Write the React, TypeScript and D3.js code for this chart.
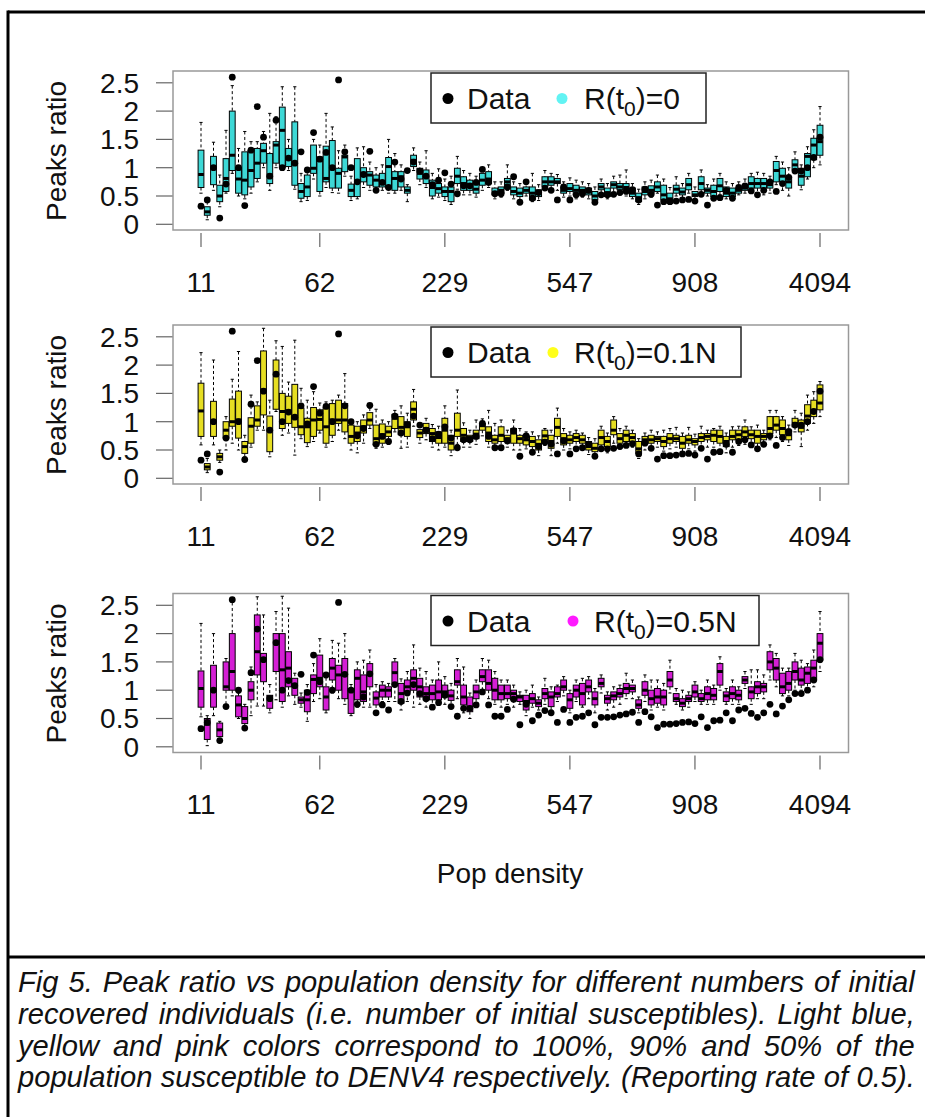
import React, { useEffect, useRef } from 'react';
import * as d3 from 'd3';

const tickIndex = [0, 19, 39, 59, 79, 99];
const tickLabels = ['11', '62', '229', '547', '908', '4094'];
const yTicks = [0, 0.5, 1, 1.5, 2, 2.5];
const yTickLabels = ['0', '0.5', '1', '1.5', '2', '2.5'];

// observed peak ratio (black dots), one per population density category
const dataPeak = [
  0.32, 0.43, 1.0, 0.11, 0.71, 2.6, 1.0, 0.33, 1.31, 2.08,
  1.54, 0.85, 1.84, 1.0, 1.17, 1.08, 1.28, 0.96, 1.62, 1.15,
  1.27, 1.0, 2.55, 1.28, 1.0, 0.75, 0.88, 1.29, 0.6, 0.74,
  0.65, 1.1, 0.8, 0.95, 1.1, 0.94, 0.85, 0.7, 0.78, 0.91,
  0.71, 0.54, 0.68, 0.68, 0.74, 0.97, 0.74, 0.54, 0.54, 0.66,
  0.84, 0.39, 0.75, 0.46, 0.56, 0.64, 0.6, 0.43, 0.66, 0.43,
  0.52, 0.54, 0.6, 0.39, 0.52, 0.52, 0.53, 0.56, 0.58, 0.61,
  0.43, 0.62, 0.53, 0.34, 0.4, 0.4, 0.41, 0.43, 0.44, 0.41,
  0.53, 0.34, 0.46, 0.47, 0.6, 0.46, 0.65, 0.68, 0.59, 0.52,
  0.6, 0.75, 0.58, 0.72, 0.83, 0.94, 0.94, 1.0, 1.18, 1.54,
];

// [lower whisker, Q1, median, Q3, upper whisker]
const boxesR0 = [
  [0.55, 0.65, 0.88, 1.31, 1.8], [0.08, 0.16, 0.22, 0.31, 0.4], [0.6, 0.7, 1.0, 1.2, 1.45], [0.31, 0.4, 0.5, 0.69, 0.87], [0.55, 0.58, 0.81, 1.16, 1.66],
  [0.9, 0.95, 1.22, 2.0, 2.45], [0.5, 0.55, 0.8, 1.0, 1.34], [0.45, 0.52, 0.78, 1.28, 1.64], [0.55, 0.66, 0.95, 1.31, 1.46], [0.75, 0.81, 1.08, 1.34, 1.46],
  [1.0, 1.08, 1.3, 1.43, 1.64], [0.6, 0.72, 0.87, 1.25, 1.96], [1.0, 1.08, 1.4, 1.46, 1.9], [0.95, 1.0, 1.66, 2.07, 2.43], [0.95, 1.02, 1.16, 1.34, 1.5],
  [0.62, 0.69, 1.08, 1.81, 2.43], [0.4, 0.46, 0.58, 0.72, 0.9], [0.42, 0.49, 0.66, 0.87, 1.0], [0.8, 0.9, 0.99, 1.4, 1.5], [0.5, 0.58, 1.13, 1.19, 1.4],
  [0.65, 0.75, 0.81, 1.38, 1.96], [0.56, 0.64, 1.02, 1.48, 1.72], [0.55, 0.64, 0.9, 0.99, 1.3], [0.85, 0.93, 1.19, 1.22, 1.4], [0.42, 0.49, 0.6, 0.71, 0.85],
  [0.45, 0.49, 0.75, 1.16, 1.35], [0.65, 0.75, 0.9, 1.0, 1.37], [0.6, 0.69, 0.87, 0.93, 1.1], [0.6, 0.66, 0.78, 0.87, 1.0], [0.6, 0.66, 0.75, 0.9, 1.05],
  [0.55, 0.64, 1.02, 1.18, 1.5], [0.55, 0.6, 0.81, 0.93, 1.25], [0.6, 0.66, 0.84, 0.93, 1.05], [0.4, 0.55, 0.6, 0.66, 0.7], [0.95, 1.02, 1.13, 1.22, 1.35],
  [0.7, 0.8, 0.9, 0.99, 1.1], [0.65, 0.72, 0.85, 0.96, 1.3], [0.45, 0.5, 0.65, 0.78, 0.9], [0.48, 0.55, 0.63, 0.72, 0.98], [0.42, 0.49, 0.58, 0.66, 0.8],
  [0.35, 0.4, 0.58, 0.66, 0.85], [0.62, 0.72, 0.85, 0.99, 1.2], [0.52, 0.6, 0.72, 0.84, 0.95], [0.52, 0.6, 0.7, 0.78, 0.9], [0.48, 0.55, 0.62, 0.72, 0.85],
  [0.6, 0.69, 0.78, 0.9, 1.0], [0.65, 0.72, 0.8, 0.93, 1.05], [0.45, 0.52, 0.56, 0.64, 0.75], [0.48, 0.55, 0.6, 0.66, 0.75], [0.6, 0.64, 0.75, 0.81, 1.05],
  [0.45, 0.52, 0.58, 0.66, 0.75], [0.42, 0.49, 0.55, 0.64, 0.72], [0.5, 0.55, 0.6, 0.66, 0.78], [0.4, 0.43, 0.55, 0.66, 0.9], [0.42, 0.49, 0.55, 0.61, 0.7],
  [0.6, 0.67, 0.75, 0.84, 0.95], [0.6, 0.69, 0.75, 0.84, 0.9], [0.6, 0.72, 0.75, 0.81, 0.88], [0.48, 0.55, 0.6, 0.66, 0.75], [0.5, 0.58, 0.63, 0.72, 0.82],
  [0.45, 0.52, 0.6, 0.69, 0.78], [0.48, 0.55, 0.6, 0.66, 0.75], [0.45, 0.52, 0.57, 0.64, 0.72], [0.38, 0.43, 0.5, 0.58, 0.66], [0.5, 0.61, 0.66, 0.72, 0.8],
  [0.45, 0.49, 0.56, 0.64, 0.72], [0.55, 0.64, 0.7, 0.75, 0.85], [0.52, 0.61, 0.66, 0.72, 0.87], [0.5, 0.58, 0.65, 0.72, 0.96], [0.45, 0.49, 0.55, 0.64, 0.72],
  [0.35, 0.4, 0.47, 0.55, 0.62], [0.45, 0.52, 0.58, 0.66, 0.75], [0.48, 0.55, 0.6, 0.68, 0.78], [0.55, 0.58, 0.66, 0.75, 0.87], [0.38, 0.43, 0.52, 0.69, 0.8],
  [0.35, 0.37, 0.45, 0.55, 0.65], [0.5, 0.55, 0.62, 0.69, 0.84], [0.45, 0.52, 0.57, 0.64, 0.72], [0.55, 0.61, 0.7, 0.81, 0.9], [0.45, 0.49, 0.52, 0.58, 0.66],
  [0.55, 0.61, 0.72, 0.84, 0.96], [0.5, 0.55, 0.6, 0.64, 0.7], [0.42, 0.49, 0.58, 0.69, 0.8], [0.52, 0.58, 0.68, 0.81, 0.9], [0.45, 0.49, 0.55, 0.66, 0.75],
  [0.42, 0.49, 0.55, 0.64, 0.72], [0.52, 0.55, 0.6, 0.64, 0.75], [0.55, 0.6, 0.64, 0.69, 0.8], [0.55, 0.64, 0.72, 0.84, 0.9], [0.55, 0.64, 0.72, 0.81, 0.92],
  [0.52, 0.64, 0.72, 0.81, 0.9], [0.55, 0.64, 0.7, 0.75, 0.85], [0.7, 0.75, 0.95, 1.11, 1.2], [0.6, 0.75, 0.85, 0.99, 1.1], [0.5, 0.64, 0.75, 0.84, 1.0],
  [0.9, 0.96, 1.05, 1.14, 1.28], [0.61, 0.69, 0.85, 0.99, 1.05], [0.8, 0.84, 1.2, 1.25, 1.37], [1.0, 1.14, 1.4, 1.52, 1.67], [1.05, 1.22, 1.46, 1.75, 2.08],
];

const boxesR01N = [
  [0.59, 0.74, 1.19, 1.68, 2.22], [0.1, 0.15, 0.2, 0.26, 0.35], [0.59, 0.74, 1.0, 1.36, 2.09], [0.28, 0.32, 0.38, 0.44, 0.5], [0.5, 0.71, 0.85, 1.0, 1.09],
  [0.62, 0.92, 1.0, 1.4, 1.75], [0.5, 0.71, 1.03, 1.54, 2.24], [0.38, 0.44, 0.56, 0.65, 0.76], [0.55, 0.62, 0.92, 1.07, 1.47], [0.85, 0.92, 1.03, 1.28, 1.35],
  [0.85, 1.12, 1.56, 2.25, 2.65], [0.38, 0.47, 0.85, 1.1, 1.38], [1.18, 1.22, 1.82, 2.09, 2.43], [0.76, 0.88, 1.18, 1.5, 2.33], [0.8, 0.97, 1.19, 1.45, 1.7],
  [0.41, 0.9, 1.09, 1.66, 2.44], [0.7, 0.77, 0.91, 1.24, 1.59], [0.56, 0.63, 0.91, 1.06, 1.38], [0.65, 0.74, 1.03, 1.25, 1.53], [0.8, 0.85, 1.04, 1.21, 1.33],
  [0.55, 0.62, 0.91, 1.25, 1.35], [0.65, 0.76, 1.03, 1.32, 1.38], [0.85, 0.97, 1.03, 1.38, 1.47], [0.7, 0.82, 1.03, 1.32, 1.85], [0.5, 0.62, 0.74, 0.94, 1.0],
  [0.45, 0.65, 0.8, 0.92, 1.0], [0.62, 0.8, 0.91, 1.03, 1.12], [0.88, 0.94, 1.03, 1.16, 1.24], [0.53, 0.59, 0.7, 0.94, 1.22], [0.55, 0.62, 0.77, 0.96, 1.03],
  [0.6, 0.74, 0.82, 0.92, 1.0], [0.82, 0.88, 1.06, 1.13, 1.2], [0.53, 0.77, 0.9, 1.09, 1.28], [0.55, 0.74, 0.91, 1.0, 1.15], [0.92, 1.03, 1.22, 1.35, 1.57],
  [0.62, 0.72, 0.8, 0.86, 0.95], [0.68, 0.79, 0.88, 0.97, 1.06], [0.55, 0.65, 0.79, 0.88, 0.95], [0.5, 0.62, 0.72, 0.82, 0.92], [0.55, 0.62, 0.85, 1.06, 1.28],
  [0.4, 0.5, 0.62, 0.76, 0.85], [0.6, 0.74, 0.85, 1.15, 1.56], [0.55, 0.65, 0.76, 0.88, 0.98], [0.55, 0.65, 0.72, 0.76, 0.85], [0.6, 0.7, 0.78, 0.85, 1.03],
  [0.75, 0.85, 0.93, 0.97, 1.05], [0.55, 0.65, 0.8, 0.91, 1.2], [0.5, 0.62, 0.68, 0.76, 0.97], [0.5, 0.65, 0.76, 0.91, 1.03], [0.55, 0.65, 0.7, 0.76, 0.85],
  [0.5, 0.62, 0.8, 0.88, 1.03], [0.5, 0.62, 0.7, 0.76, 0.88], [0.52, 0.59, 0.68, 0.76, 0.82], [0.45, 0.56, 0.65, 0.74, 0.82], [0.4, 0.5, 0.6, 0.68, 0.75],
  [0.58, 0.68, 0.75, 0.85, 0.88], [0.4, 0.53, 0.65, 0.76, 0.85], [0.62, 0.74, 0.9, 1.06, 1.24], [0.5, 0.59, 0.7, 0.79, 0.88], [0.52, 0.62, 0.68, 0.76, 0.82],
  [0.55, 0.65, 0.72, 0.79, 0.85], [0.52, 0.62, 0.68, 0.76, 0.8], [0.42, 0.5, 0.56, 0.65, 0.72], [0.38, 0.47, 0.53, 0.62, 0.7], [0.5, 0.59, 0.72, 0.85, 0.92],
  [0.45, 0.56, 0.65, 0.74, 0.8], [0.62, 0.77, 0.85, 1.03, 1.09], [0.52, 0.62, 0.7, 0.79, 0.88], [0.55, 0.65, 0.76, 0.85, 0.92], [0.55, 0.65, 0.72, 0.79, 0.85],
  [0.35, 0.44, 0.52, 0.65, 0.7], [0.5, 0.62, 0.68, 0.74, 0.8], [0.5, 0.62, 0.68, 0.76, 0.85], [0.55, 0.65, 0.7, 0.74, 0.82], [0.48, 0.56, 0.65, 0.74, 0.85],
  [0.52, 0.62, 0.7, 0.79, 0.88], [0.55, 0.65, 0.7, 0.76, 0.9], [0.45, 0.53, 0.62, 0.74, 0.8], [0.52, 0.62, 0.68, 0.76, 0.9], [0.48, 0.59, 0.65, 0.7, 0.78],
  [0.55, 0.65, 0.72, 0.79, 0.92], [0.55, 0.68, 0.74, 0.79, 0.85], [0.55, 0.65, 0.76, 0.85, 0.88], [0.5, 0.62, 0.74, 0.85, 0.92], [0.45, 0.56, 0.65, 0.74, 0.8],
  [0.55, 0.68, 0.74, 0.85, 0.91], [0.58, 0.68, 0.77, 0.85, 0.92], [0.6, 0.74, 0.82, 0.91, 1.03], [0.6, 0.7, 0.77, 0.85, 0.91], [0.5, 0.62, 0.74, 0.85, 0.94],
  [0.58, 0.68, 0.74, 0.79, 0.85], [0.68, 0.79, 0.88, 1.09, 1.2], [0.72, 0.85, 0.94, 1.09, 1.2], [0.65, 0.77, 0.88, 1.03, 1.09], [0.58, 0.68, 0.77, 0.85, 0.94],
  [0.82, 0.91, 0.97, 1.06, 1.2], [0.56, 0.82, 0.9, 1.03, 1.15], [0.85, 0.97, 1.1, 1.3, 1.47], [0.97, 1.09, 1.2, 1.38, 1.53], [1.09, 1.21, 1.33, 1.65, 1.71],
];

const boxesR05N = [
  [0.53, 0.7, 1.03, 1.34, 2.18], [0.02, 0.13, 0.4, 0.5, 0.55], [0.55, 0.7, 1.0, 1.44, 2.0], [0.18, 0.18, 0.3, 0.42, 0.45], [0.75, 1.0, 1.06, 1.5, 1.56],
  [0.9, 1.0, 1.33, 2.0, 2.55], [0.5, 0.53, 0.74, 0.9, 0.95], [0.35, 0.41, 0.5, 0.71, 0.75], [0.55, 0.83, 1.0, 1.15, 1.41], [0.72, 1.27, 1.68, 2.33, 2.65],
  [0.72, 1.15, 1.56, 1.65, 2.33], [0.6, 0.68, 0.88, 0.91, 1.1], [0.83, 1.33, 1.83, 2.0, 2.39], [0.7, 0.8, 1.36, 2.0, 2.66], [0.9, 1.06, 1.39, 1.68, 2.45],
  [0.75, 0.91, 1.09, 1.21, 1.3], [0.7, 0.77, 0.83, 0.88, 0.95], [0.45, 0.62, 0.83, 1.0, 1.1], [0.8, 0.94, 1.19, 1.27, 1.47], [0.85, 1.06, 1.21, 1.62, 1.91],
  [0.6, 0.65, 0.88, 1.06, 1.22], [0.95, 1.18, 1.39, 1.56, 1.88], [0.85, 1.0, 1.27, 1.44, 1.83], [0.75, 0.85, 1.27, 1.56, 2.0], [0.55, 0.59, 1.0, 1.03, 1.1],
  [0.7, 0.83, 1.21, 1.36, 1.5], [0.7, 0.8, 0.97, 1.27, 1.53], [0.7, 1.06, 1.3, 1.47, 1.71], [0.6, 0.74, 0.86, 0.97, 1.1], [0.8, 0.88, 1.0, 1.09, 1.15],
  [0.8, 0.88, 1.0, 1.06, 1.12], [0.8, 1.09, 1.31, 1.5, 1.56], [0.65, 0.77, 0.94, 1.12, 1.2], [0.8, 0.97, 1.06, 1.18, 1.33], [0.7, 1.0, 1.21, 1.36, 1.8],
  [0.75, 0.88, 1.06, 1.21, 1.39], [0.7, 0.83, 0.94, 1.06, 1.33], [0.7, 0.83, 0.94, 1.09, 1.18], [0.75, 0.83, 0.97, 1.18, 1.5], [0.75, 0.88, 0.97, 1.09, 1.24],
  [0.7, 0.82, 0.9, 1.0, 1.12], [0.85, 1.09, 1.15, 1.36, 1.56], [0.6, 0.74, 0.88, 1.09, 1.41], [0.5, 0.62, 0.7, 0.88, 0.95], [0.75, 0.85, 0.97, 1.09, 1.18],
  [0.95, 1.15, 1.24, 1.36, 1.56], [0.85, 1.0, 1.12, 1.36, 1.53], [0.75, 0.83, 1.0, 1.21, 1.33], [0.7, 0.83, 0.94, 1.09, 1.18], [0.75, 0.85, 0.94, 1.09, 1.18],
  [0.7, 0.83, 0.94, 1.0, 1.09], [0.75, 0.8, 0.88, 0.91, 0.97], [0.55, 0.65, 0.8, 0.91, 1.0], [0.7, 0.77, 0.85, 0.94, 1.09], [0.65, 0.71, 0.77, 0.83, 0.88],
  [0.75, 0.85, 0.94, 1.03, 1.21], [0.65, 0.71, 0.88, 0.97, 1.06], [0.8, 0.88, 0.94, 1.06, 1.09], [0.9, 1.0, 1.06, 1.18, 1.24], [0.6, 0.68, 0.83, 0.94, 1.0],
  [0.8, 0.88, 1.0, 1.09, 1.18], [0.7, 0.74, 0.94, 1.12, 1.21], [0.85, 0.97, 1.06, 1.18, 1.24], [0.6, 0.74, 0.85, 0.97, 1.03], [0.95, 1.06, 1.12, 1.21, 1.27],
  [0.65, 0.77, 0.85, 0.91, 0.97], [0.7, 0.83, 0.9, 0.97, 1.06], [0.75, 0.88, 0.94, 1.03, 1.09], [0.85, 0.94, 1.03, 1.12, 1.3], [0.85, 0.97, 1.03, 1.09, 1.18],
  [0.6, 0.68, 0.74, 0.83, 0.88], [0.8, 0.91, 1.0, 1.15, 1.27], [0.65, 0.74, 0.85, 1.0, 1.18], [0.7, 0.77, 0.88, 1.03, 1.18], [0.65, 0.74, 0.88, 1.0, 1.12],
  [0.95, 1.06, 1.18, 1.33, 1.53], [0.75, 0.8, 0.85, 0.94, 1.03], [0.65, 0.71, 0.77, 0.85, 1.0], [0.7, 0.8, 0.85, 0.91, 0.97], [0.8, 0.88, 0.97, 1.09, 1.15],
  [0.75, 0.8, 0.85, 0.94, 1.0], [0.75, 0.83, 0.94, 1.06, 1.18], [0.75, 0.83, 0.91, 1.03, 1.09], [1.0, 1.09, 1.33, 1.47, 1.59], [0.75, 0.8, 0.9, 0.97, 1.03],
  [0.75, 0.85, 0.94, 1.06, 1.18], [0.75, 0.83, 0.91, 1.0, 1.06], [1.03, 1.12, 1.18, 1.24, 1.33], [0.75, 0.85, 0.97, 1.06, 1.36], [0.85, 0.94, 1.06, 1.15, 1.36],
  [0.85, 0.97, 1.06, 1.12, 1.27], [1.18, 1.36, 1.5, 1.68, 1.8], [1.06, 1.18, 1.39, 1.56, 1.65], [0.9, 0.94, 1.06, 1.3, 1.39], [0.9, 1.0, 1.12, 1.33, 1.39],
  [1.0, 1.18, 1.33, 1.5, 1.65], [1.0, 1.09, 1.18, 1.39, 1.53], [1.0, 1.12, 1.3, 1.41, 1.47], [1.06, 1.18, 1.39, 1.53, 1.71], [1.33, 1.53, 1.83, 2.0, 2.39],
];

const captionLines = [
  'Fig 5. Peak ratio vs population density for different numbers of initial',
  'recovered individuals (i.e. number of initial susceptibles). Light blue,',
  'yellow and pink colors correspond to 100%, 90% and 50% of the',
  'population susceptible to DENV4 respectively. (Reporting rate of 0.5).',
];

const FONT = '"Liberation Sans", Arial, Helvetica, sans-serif';
const CAP_FONT = '"Liberation Sans", Arial, sans-serif';

const panels = [
  { boxes: boxesR0, fill: '#3DD8D6', dot: '#62F3F3', suffix: '=0', top: 71, legRight: 706, dot2: 562, text2: 584 },
  { boxes: boxesR01N, fill: '#E6DE22', dot: '#FFFF1A', suffix: '=0.1N', top: 325, legRight: 741, dot2: 553, text2: 574 },
  { boxes: boxesR05N, fill: '#D41FD4', dot: '#FF1AFF', suffix: '=0.5N', top: 593.5, legRight: 759, dot2: 573, text2: 594 },
];

const PLOT_L = 173;
const PLOT_R = 848.5;
const PLOT_H = 159;
const ZERO_OFF = 153.3;
const UNIT = 56.6;
const CAP_X = 18;
const CAP_W = 897;
const CAP_FS = 30;

const x = d3.scaleLinear().domain([0, 99]).range([201, 820]);

function Panel({ p }: { p: any }) {
  const zero = p.top + ZERO_OFF;
  const y = d3.scaleLinear().domain([0, 2.5]).range([zero, zero - UNIT * 2.5]);
  const bw = 2.9;
  const legTop = p.top + 2;
  const legMid = p.top + 27.5;
  return (
    <g>
      {yTicks.map((t, i) => (
        <g key={'yt' + i}>
          <line x1={156} x2={PLOT_L} y1={y(t)} y2={y(t)} stroke="#666" strokeWidth={1.2} />
          <text x={139} y={y(t)} dy="0.35em" textAnchor="end" fontSize={28} fontFamily={FONT} fill="#111">
            {yTickLabels[i]}
          </text>
        </g>
      ))}
      <text
        transform={`translate(56,${p.top + 80}) rotate(-90)`}
        textAnchor="middle"
        dy="0.35em"
        fontSize={28}
        fontFamily={FONT}
        fill="#111"
      >
        Peaks ratio
      </text>
      {tickIndex.map((ti, i) => (
        <g key={'xt' + i}>
          <line x1={x(ti)} x2={x(ti)} y1={p.top + PLOT_H + 3} y2={p.top + PLOT_H + 17} stroke="#666" strokeWidth={1.2} />
          <text x={x(ti)} y={p.top + 211} dy="0.35em" textAnchor="middle" fontSize={28} fontFamily={FONT} fill="#111">
            {tickLabels[i]}
          </text>
        </g>
      ))}
      {p.boxes.map((b: number[], i: number) => {
        const cx = x(i);
        const [lo, q1, md, q3, hi] = b;
        return (
          <g key={'b' + i}>
            <line x1={cx} x2={cx} y1={y(hi)} y2={y(q3)} stroke="#000" strokeWidth={1} strokeDasharray="3,2.5" />
            <line x1={cx} x2={cx} y1={y(q1)} y2={y(lo)} stroke="#000" strokeWidth={1} strokeDasharray="3,2.5" />
            <line x1={cx - 1.6} x2={cx + 1.6} y1={y(hi)} y2={y(hi)} stroke="#000" strokeWidth={1} />
            <line x1={cx - 1.6} x2={cx + 1.6} y1={y(lo)} y2={y(lo)} stroke="#000" strokeWidth={1} />
            <rect x={cx - bw} width={bw * 2} y={y(q3)} height={Math.max(0.5, y(q1) - y(q3))} fill={p.fill} stroke="#000" strokeWidth={1} />
            <line x1={cx - bw} x2={cx + bw} y1={y(md)} y2={y(md)} stroke="#000" strokeWidth={3} />
          </g>
        );
      })}
      {dataPeak.map((v, i) => (
        <circle key={'d' + i} cx={x(i)} cy={y(v)} r={3.4} fill="#000" />
      ))}
      <rect x={PLOT_L} y={p.top} width={PLOT_R - PLOT_L} height={PLOT_H} fill="none" stroke="#999" strokeWidth={1.5} />
      <rect x={431} y={legTop} width={p.legRight - 431} height={50} fill="#fff" stroke="#222" strokeWidth={1.5} />
      <circle cx={448} cy={legMid} r={5.5} fill="#000" />
      <text x={467} y={legMid} dy="0.36em" fontSize={30} fontFamily={FONT} fill="#111">Data</text>
      <circle cx={p.dot2} cy={legMid} r={5.5} fill={p.dot} />
      <text x={p.text2} y={legMid} dy="0.36em" fontSize={30} fontFamily={FONT} fill="#111">
        R(t<tspan fontSize={21} dy="7">0</tspan><tspan dy="-7">{')' + p.suffix}</tspan>
      </text>
    </g>
  );
}

export default function App() {
  const capRef = useRef<SVGGElement>(null);
  useEffect(() => {
    if (!capRef.current) return;
    const texts = d3.select(capRef.current).selectAll<SVGTextElement, unknown>('text');
    // emulate a condensed face: squeeze horizontally so the longest line fills the width
    let maxLen = 0;
    texts.each(function () {
      maxLen = Math.max(maxLen, this.getComputedTextLength());
    });
    const sx = (CAP_W - 2) / maxLen;
    texts.each(function () {
      const len = this.getComputedTextLength();
      const spaces = (this.textContent || '').split(' ').length - 1;
      const ws = (CAP_W / sx - len) / Math.max(1, spaces);
      this.style.wordSpacing = ws + 'px';
      const yy = +(this.getAttribute('data-y') || 0);
      this.setAttribute('transform', `translate(${CAP_X},${yy}) scale(${sx},1)`);
    });
  }, []);
  return (
    <svg width={925} height={1117} style={{ position: 'absolute', left: 0, top: 0, background: '#fff' }}>
      <rect x={0} y={0} width={925} height={1117} fill="#fff" />
      <line x1={8} x2={925} y1={12} y2={12} stroke="#000" strokeWidth={3} />
      <line x1={8} x2={8} y1={10.5} y2={1117} stroke="#000" strokeWidth={3} />
      <line x1={8} x2={925} y1={957} y2={957} stroke="#000" strokeWidth={3} />
      {panels.map((p, i) => (
        <Panel key={i} p={p} />
      ))}
      <text x={510} y={873} dy="0.35em" textAnchor="middle" fontSize={28} fontFamily={FONT} fill="#111">
        Pop density
      </text>
      <g ref={capRef}>
        {captionLines.map((l, i) => (
          <text
            key={i}
            data-y={992 + i * 31.8}
            transform={`translate(${CAP_X},${992 + i * 31.8})`}
            x={0}
            y={0}
            fontSize={CAP_FS}
            fontStyle="italic"
            fontFamily={CAP_FONT}
            fill="#111"
          >
            {l}
          </text>
        ))}
      </g>
    </svg>
  );
}
